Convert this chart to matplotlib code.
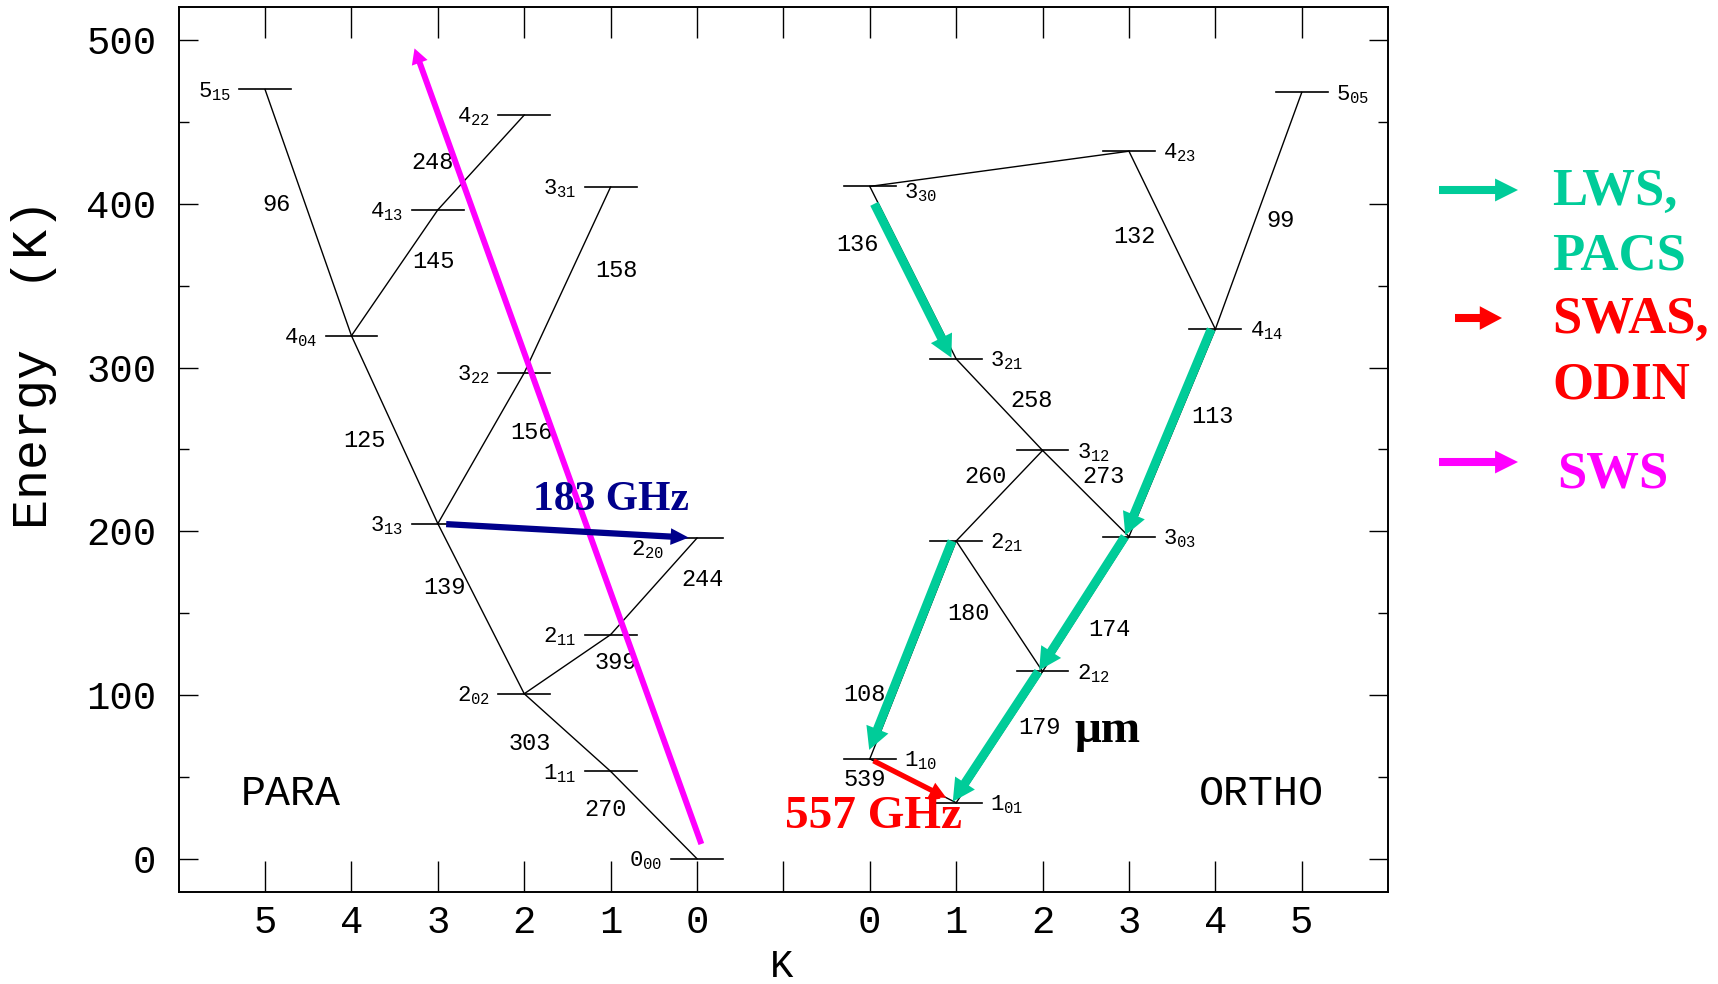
import matplotlib
matplotlib.use('Agg')
import matplotlib.pyplot as plt
from matplotlib import transforms

plt.rcParams['font.family'] = ['Liberation Mono', 'DejaVu Sans']
plt.rcParams['mathtext.fontset'] = 'custom'
plt.rcParams['mathtext.rm'] = 'Liberation Mono'
plt.rcParams['mathtext.it'] = 'Liberation Mono'

# water rotational levels, energy in K (name = J_KaKc)
para_levels = ['0_00', '1_11', '2_02', '2_11', '2_20', '3_13', '3_22', '3_31', '4_04', '4_13', '4_22', '5_15']
para_energy = [0.0, 53.4, 100.8, 136.9, 195.9, 204.7, 296.8, 410.4, 319.5, 396.4, 454.3, 469.9]
ortho_levels = ['1_01', '1_10', '2_12', '2_21', '3_03', '3_12', '3_21', '3_30', '4_14', '4_23', '5_05']
ortho_energy = [34.2, 61.0, 114.4, 194.1, 196.8, 249.4, 305.3, 410.7, 323.5, 432.2, 468.1]

# transitions (upper, lower, wavelength in micron)
para_lines = [('5_15', '4_04', '96'), ('4_04', '4_13', '145'), ('4_13', '4_22', '248'),
              ('4_04', '3_13', '125'), ('3_13', '3_22', '156'), ('3_22', '3_31', '158'),
              ('3_13', '2_02', '139'), ('2_02', '2_11', '399'), ('2_11', '2_20', '244'),
              ('2_02', '1_11', '303'), ('1_11', '0_00', '270')]
ortho_lines = [('3_30', '4_23', ''), ('4_23', '4_14', '132'), ('5_05', '4_14', '99'),
               ('3_30', '3_21', '136'), ('3_21', '3_12', '258'), ('4_14', '3_03', '113'),
               ('3_12', '2_21', '260'), ('3_12', '3_03', '273'), ('3_03', '2_12', '174'),
               ('2_21', '2_12', '180'), ('2_21', '1_10', '108'), ('2_12', '1_01', '179'),
               ('1_10', '1_01', '539')]

# observed lines
lws_pacs = [('3_30', '3_21'), ('4_14', '3_03'), ('3_03', '2_12'), ('2_12', '1_01'), ('2_21', '1_10')]
swas_odin = [('1_10', '1_01')]
line_183 = ('3_13', '2_20')
sws_start = (5.05, 9.0)
sws_end = (1.73, 495.0)

k_labels = ['5', '4', '3', '2', '1', '0', '', '0', '1', '2', '3', '4', '5']

# placement of wavelength labels, offset from the line midpoint (points)
wl_offset = {'96': (-23, 6), '145': (28, 8), '248': (-35, 0), '125': (-22, -8), '156': (36, 11),
             '158': (35, 7), '139': (-26, 15), '399': (35, 1), '244': (35, 5), '303': (-27, -8),
             '270': (-35, 4), '132': (-27, 3), '99': (16, -7), '136': (-40, 20), '258': (23, 3),
             '113': (29, 12), '260': (-10, 14), '273': (13, 12), '174': (17, -18), '180': (-22, -5),
             '108': (-35, -32), '179': (29, 7), '539': (-35, 1)}

GREEN = '#00cc99'
NAVY = '#00008b'
RED = '#ff0000'
MAGENTA = '#ff00ff'

pos = {}
for n, e in zip(para_levels, para_energy):
    pos[n] = (5 - int(n[-1]), e)
for n, e in zip(ortho_levels, ortho_energy):
    pos[n] = (7 + int(n[-1]), e)
ortho_set = set(ortho_levels)

fig = plt.figure(figsize=(17.18, 9.84), dpi=100)
ax = fig.add_axes([0.104, 0.094, 0.704, 0.8984])


def arrow(p0, p1, color, tw, hw, hl, trans=None, sA=0, sB=0, z=4):
    t = trans if trans is not None else ax.transData
    ax.annotate('', xy=p1, xytext=p0, xycoords=t, textcoords=t, annotation_clip=False,
                arrowprops=dict(arrowstyle=f'simple,head_length={hl},head_width={hw},tail_width={tw}',
                                mutation_scale=1, color=color, lw=0, shrinkA=sA, shrinkB=sB),
                zorder=z)


# levels
for n, (u, e) in pos.items():
    ax.plot([u - 0.3, u + 0.3], [e, e], color='k', lw=1.2, zorder=2)
    lab = '$%s_{%s}$' % (n[0], n[2:])
    if n in ortho_set:
        dy = -8.5 if n == '3_30' else -5.5
        ax.annotate(lab, xy=(u + 0.3, e), xytext=(6, dy), textcoords='offset points',
                    ha='left', va='baseline', fontsize=16)
    else:
        dx, dy = (-5, -12.5) if n == '2_20' else (-6, -5.5)
        ax.annotate(lab, xy=(u - 0.3, e), xytext=(dx, dy), textcoords='offset points',
                    ha='right', va='baseline', fontsize=16)

# transitions
for a, b, wl in para_lines + ortho_lines:
    (u1, e1), (u2, e2) = pos[a], pos[b]
    ax.plot([u1, u2], [e1, e2], color='k', lw=1.0, zorder=2)
    if wl:
        ax.annotate(wl, xy=((u1 + u2) / 2, (e1 + e2) / 2), xytext=wl_offset[wl],
                    textcoords='offset points', ha='center', va='center', fontsize=17)

# observed transitions
shift = transforms.offset_copy(ax.transData, fig=fig, x=-3, y=0, units='points')
for a, b in lws_pacs:
    sA = 14 if a == '3_30' else 0
    sB = 7 if b == '1_10' else 1
    arrow(pos[a], pos[b], GREEN, 6.5, 17, 16, trans=shift, sA=sA, sB=sB)
for a, b in swas_odin:
    arrow(pos[a], pos[b], RED, 3.8, 12, 12, sA=3, sB=8, z=5)
arrow(pos[line_183[0]], pos[line_183[1]], NAVY, 4.5, 12, 13, sA=6, sB=6)
arrow(sws_start, sws_end, MAGENTA, 4.3, 12, 11, z=3)

ax.text(4.01, 213, '183 GHz', ha='center', va='baseline', fontsize=30, fontweight='bold',
        family='Liberation Serif', color=NAVY, zorder=3)
ax.text(7.04, 19, '557 GHz', ha='center', va='baseline', fontsize=34, fontweight='bold',
        family='Liberation Serif', color=RED, zorder=6)
ax.text(9.75, 71.4, 'μm', ha='center', va='baseline', fontsize=34, fontweight='bold',
        family='Liberation Serif', color='k')
ax.text(0.3, 33, 'PARA', ha='center', va='baseline', fontsize=30)
ax.text(11.53, 33, 'ORTHO', ha='center', va='baseline', fontsize=30)

ax.set_xlim(-1, 13)
ax.set_ylim(-20, 520)
ax.set_xticks(range(13))
ax.set_xticklabels(k_labels)
ax.set_yticks(range(0, 501, 100))
ax.set_yticks(range(50, 501, 100), minor=True)
ax.tick_params(axis='x', which='major', direction='in', top=True, bottom=True,
               length=22, width=1, labelsize=28, pad=10)
ax.tick_params(axis='y', which='major', direction='in', left=True, right=True,
               length=14, width=1, labelsize=28, pad=16)
ax.tick_params(axis='y', which='minor', direction='in', left=True, right=True,
               length=7.5, width=1)
for s in ax.spines.values():
    s.set_linewidth(1.4)

fig.text(34 / 1718, 1 - 364 / 984, 'Energy  (K)', rotation=90, ha='center', va='center', fontsize=36)
fig.text(782 / 1718, 1 - 967 / 984, 'K', ha='center', va='center', fontsize=28)

# legend on the right
W, H = 1718.0, 984.0
ff = 'figure fraction'
arrow((1439 / W, 1 - 190 / H), (1518 / W, 1 - 190 / H), GREEN, 5.8, 16.5, 16.5, trans=ff)
arrow((1455 / W, 1 - 318 / H), (1502 / W, 1 - 318 / H), RED, 5.8, 17, 16, trans=ff)
arrow((1439 / W, 1 - 462 / H), (1518 / W, 1 - 462 / H), MAGENTA, 5.8, 16.5, 16.5, trans=ff)
legend_rows = [('LWS,', GREEN, 1552, 205), ('PACS', GREEN, 1552, 270), ('SWAS,', RED, 1552, 333),
               ('ODIN', RED, 1552, 398), ('SWS', MAGENTA, 1557, 488)]
for txt, c, x, y in legend_rows:
    fig.text(x / W, 1 - y / H, txt, ha='left', va='baseline', fontsize=38, fontweight='bold',
             family='Liberation Serif', color=c)

fig.savefig('out.png', dpi=100)
